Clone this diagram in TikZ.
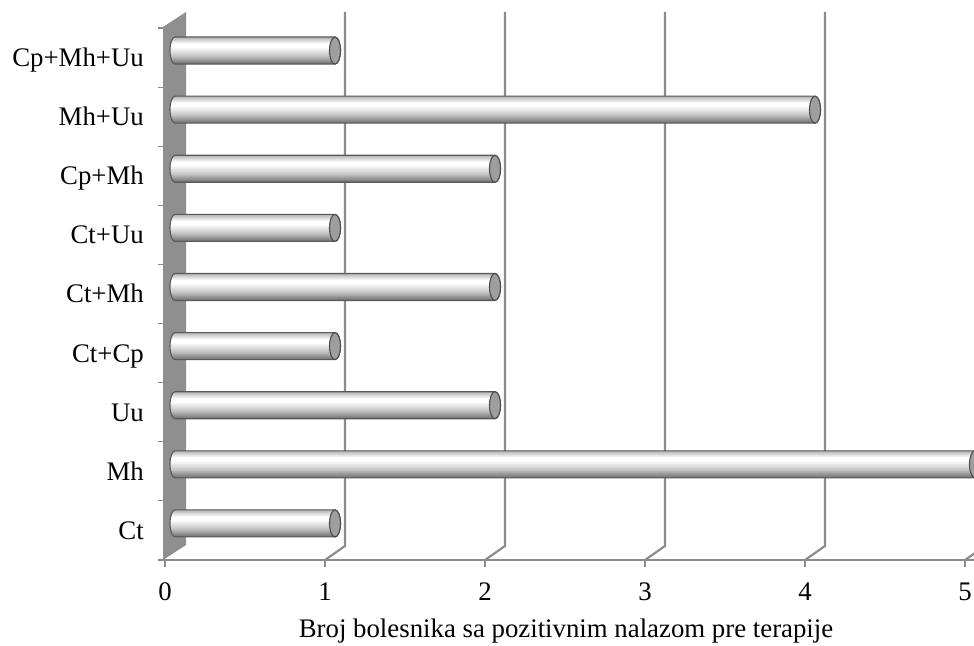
\documentclass[tikz,border=0pt]{standalone}
\usepackage{fontspec}
\setmainfont{Liberation Serif}
\newcommand{\gridColor}[0]{black!45}
\newcommand{\bandHeight}[0]{59.11}
\newcommand{\unitWidth}[0]{160}
\pgfdeclareverticalshading{barshade}{100bp}{color(0bp)=(black!58); color(25bp)=(black!58); color(40bp)=(black!24); color(57bp)=(white); color(63bp)=(white); color(75bp)=(black!30); color(100bp)=(black!30)}

\begin{document}
\begin{tikzpicture}[x=1pt, y=1pt]
  \tikzset{
    grid line/.style={draw=\gridColor, line width=2.2pt},
    axis label/.style={font=\fontsize{26.8}{30}\selectfont, inner sep=0pt},
    cyl body/.style={shade, shading=barshade, draw=black!65, line width=1.1pt},
    cyl cap/.style={fill=black!38, draw=black!70, line width=1.1pt}
  }
  \useasboundingbox (0,0) rectangle (974,645);
  \clip (0,0) rectangle (974,645);
  \fill[black!44] (163,85) -- (163,618) -- (186,633) -- (186,100) -- cycle;
  \draw[\gridColor, line width=2pt] (158,85) -- (974,85);
  \foreach \v in {1,...,5}
    \draw[grid line] ({165+\unitWidth*\v},85) -- ++(20,14) -- ({185+\unitWidth*\v},633);
  \foreach \v in {0,...,5} {
    \draw[\gridColor, line width=1.5pt] ({165+\unitWidth*\v},85) -- ++(0,-7);
    \node[axis label, anchor=base] (tick-\v) at ({165+\unitWidth*\v},45) {\v};
  }
  \foreach \k in {0,...,9}
    \draw[\gridColor, line width=1.2pt] (158,{617-\bandHeight*\k}) -- (163,{617-\bandHeight*\k});
  \foreach \lab/\val [count=\k from 0] in {Cp+Mh+Uu/1, Mh+Uu/4, Cp+Mh/2, Ct+Uu/1, Ct+Mh/2, Ct+Cp/1, Uu/2, Mh/5, Ct/1} {
    \pgfmathsetmacro{\yc}{617-\bandHeight*(\k+0.5)}
    \pgfmathsetmacro{\xe}{175+\unitWidth*\val}
    \node[axis label, anchor=base east] (lab-\k) at (144,\yc-9) {\lab};
    \draw[cyl body] (175,\yc+20.5) -- (\xe,\yc+20.5)
      arc[start angle=90, end angle=-90, x radius=5.5, y radius=13.5]
      -- (175,\yc-6.5)
      arc[start angle=270, end angle=90, x radius=5, y radius=13.5] -- cycle;
    \draw[cyl cap] (\xe,\yc+7) ellipse[x radius=5.5, y radius=13.5];
  }
  \node[axis label, anchor=base] (axis-title) at (566,8) {Broj bolesnika sa pozitivnim nalazom pre terapije};
\end{tikzpicture}
\end{document}
